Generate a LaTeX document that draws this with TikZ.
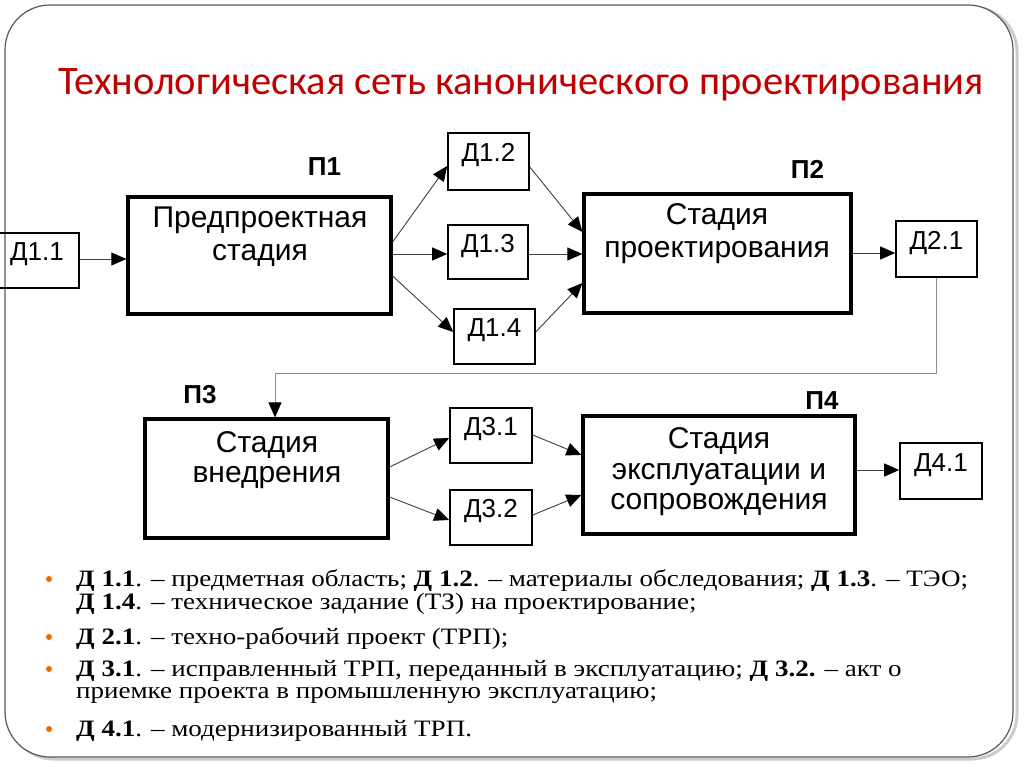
\documentclass[tikz,border=0pt]{standalone}
\usepackage{fontspec}
\setmainfont{Liberation Sans}
\newfontfamily\titlefont{Carlito}
\newfontfamily\bodyfont[FakeStretch=1.15]{Liberation Serif}
\usetikzlibrary{arrows.meta,calc}
\definecolor{titlered}{RGB}{190,0,0}
\definecolor{bulletorange}{RGB}{228,108,10}
\begin{document}
\begin{tikzpicture}[x=1pt,y=-1pt,
  stagebox/.style={draw=black,line width=3.2pt,inner sep=0pt},
  dbox/.style={draw=black,line width=1.6pt,inner sep=0pt,text height=18pt,text depth=18pt,font=\fontsize{26}{30}\selectfont},
  stagetext/.style={anchor=base,align=center,inner sep=0pt,font=\fontsize{30}{34}\selectfont},
  plabel/.style={anchor=base,inner sep=0pt,font=\fontsize{26}{30}\selectfont\bfseries},
  conn/.style={draw=black!75,line width=0.9pt,-{Triangle[length=15pt,width=13pt,color=black]}},
  gconn/.style={draw=black!45,line width=1pt,-{Triangle[length=15pt,width=13pt,color=black]}},
  bullet/.style={circle,fill=bulletorange,inner sep=0pt,minimum size=6pt},
  bline/.style={anchor=base west,inner sep=0pt,font=\bodyfont\fontsize{23.5}{27}\selectfont}
]
\useasboundingbox (0,0) rectangle (1024,767);
% frame with shadow
\draw[black!20,line width=3pt,rounded corners=45pt] (9,7) rectangle (1017,759);
\draw[fill=white,draw=black!65,line width=1.2pt,rounded corners=45pt] (5,5) rectangle (1013,757);

% title
\node[anchor=base,inner sep=0pt,text=titlered,font=\titlefont\fontsize{40.5}{44}\selectfont] (title) at (521,95) {Технологическая сеть канонического проектирования};

% stage boxes
\node[stagebox,minimum width=263pt,minimum height=117pt] (p1) at (259.5,255.5) {};
\node[stagebox,minimum width=267pt,minimum height=119pt] (p2) at (717.5,253.5) {};
\node[stagebox,minimum width=243pt,minimum height=119pt] (p3) at (266.5,478.5) {};
\node[stagebox,minimum width=272pt,minimum height=118pt] (p4) at (719,475) {};

\node[stagetext] (p1a) at (260,228) {Предпроектная};
\node[stagetext] (p1b) at (260,260) {стадия};
\node[stagetext] (p2a) at (717,225) {Стадия};
\node[stagetext] (p2b) at (717,257) {проектирования};
\node[stagetext] (p3a) at (267,452) {Стадия};
\node[stagetext] (p3b) at (267,482) {внедрения};
\node[stagetext] (p4a) at (719,448) {Стадия};
\node[stagetext] (p4b) at (719,479) {эксплуатации и};
\node[stagetext] (p4c) at (719,509) {сопровождения};

\node[plabel] (l1) at (324.5,176) {П1};
\node[plabel] (l2) at (807.5,179) {П2};
\node[plabel] (l3) at (200,403) {П3};
\node[plabel] (l4) at (822,409) {П4};

% document boxes
\node[dbox,minimum width=84pt,minimum height=55pt] (d11) at (37,260.5) {Д1.1};
\node[dbox,minimum width=81pt,minimum height=57pt] (d12) at (488.5,161.5) {Д1.2};
\node[dbox,minimum width=80pt,minimum height=54pt] (d13) at (488,252) {Д1.3};
\node[dbox,minimum width=81pt,minimum height=55pt] (d14) at (494.5,336.5) {Д1.4};
\node[dbox,minimum width=81pt,minimum height=56pt] (d21) at (936.5,249) {Д2.1};
\node[dbox,minimum width=82pt,minimum height=55pt] (d31) at (491,435.5) {Д3.1};
\node[dbox,minimum width=82pt,minimum height=55pt] (d32) at (491,517.5) {Д3.2};
\node[dbox,minimum width=82pt,minimum height=56pt] (d41) at (941,471) {Д4.1};

% connectors
\draw[conn] (d11.east |- 0,259) -- (p1.west |- 0,259);
\draw[conn] (p1.east |- 0,242) -- (d12.west |- 0,166);
\draw[conn] (p1.east |- 0,254) -- (d13.west |- 0,254);
\draw[conn] (p1.east |- 0,276) -- (d14.west |- 0,332);
\draw[conn] (d12.east |- 0,167) -- (p2.west |- 0,232);
\draw[conn] (d13.east |- 0,254) -- (p2.west |- 0,254);
\draw[conn] (d14.east |- 0,332) -- (p2.west |- 0,283);
\draw[conn] (p2.east |- 0,253) -- (d21.west |- 0,253);
\coordinate (bend) at (275,373);
\draw[gconn] (d21.south) |- (bend) -- (bend |- p3.north);
\draw[conn] (p3.east |- 0,467) -- (d31.west |- 0,438);
\draw[conn] (p3.east |- 0,497) -- (d32.west |- 0,520);
\draw[conn] (d31.east |- 0,435) -- (p4.west |- 0,455);
\draw[conn] (d32.east |- 0,515) -- (p4.west |- 0,495);
\draw[conn] (p4.east |- 0,470) -- (d41.west |- 0,470);

% legend
\node[bullet] (b1) at (49,579) {};
\node[bullet] (b2) at (49,637) {};
\node[bullet] (b3) at (49,669) {};
\node[bullet] (b4) at (49,729) {};
\node[bline] (t1) at (76,586) {\textbf{Д 1.1}. – предметная область; \textbf{Д 1.2}. – материалы обследования; \textbf{Д 1.3}. – ТЭО;};
\node[bline] (t2) at (76,609) {\textbf{Д 1.4}. – техническое задание (ТЗ) на проектирование;};
\node[bline] (t3) at (76,644) {\textbf{Д 2.1}. – техно-рабочий проект (ТРП);};
\node[bline] (t4) at (76,676) {\textbf{Д 3.1}. – исправленный ТРП, переданный в эксплуатацию; \textbf{Д 3.2.} – акт о};
\node[bline] (t5) at (76,698) {приемке проекта в промышленную эксплуатацию;};
\node[bline] (t6) at (76,736) {\textbf{Д 4.1}. – модернизированный ТРП.};
\end{tikzpicture}
\end{document}
